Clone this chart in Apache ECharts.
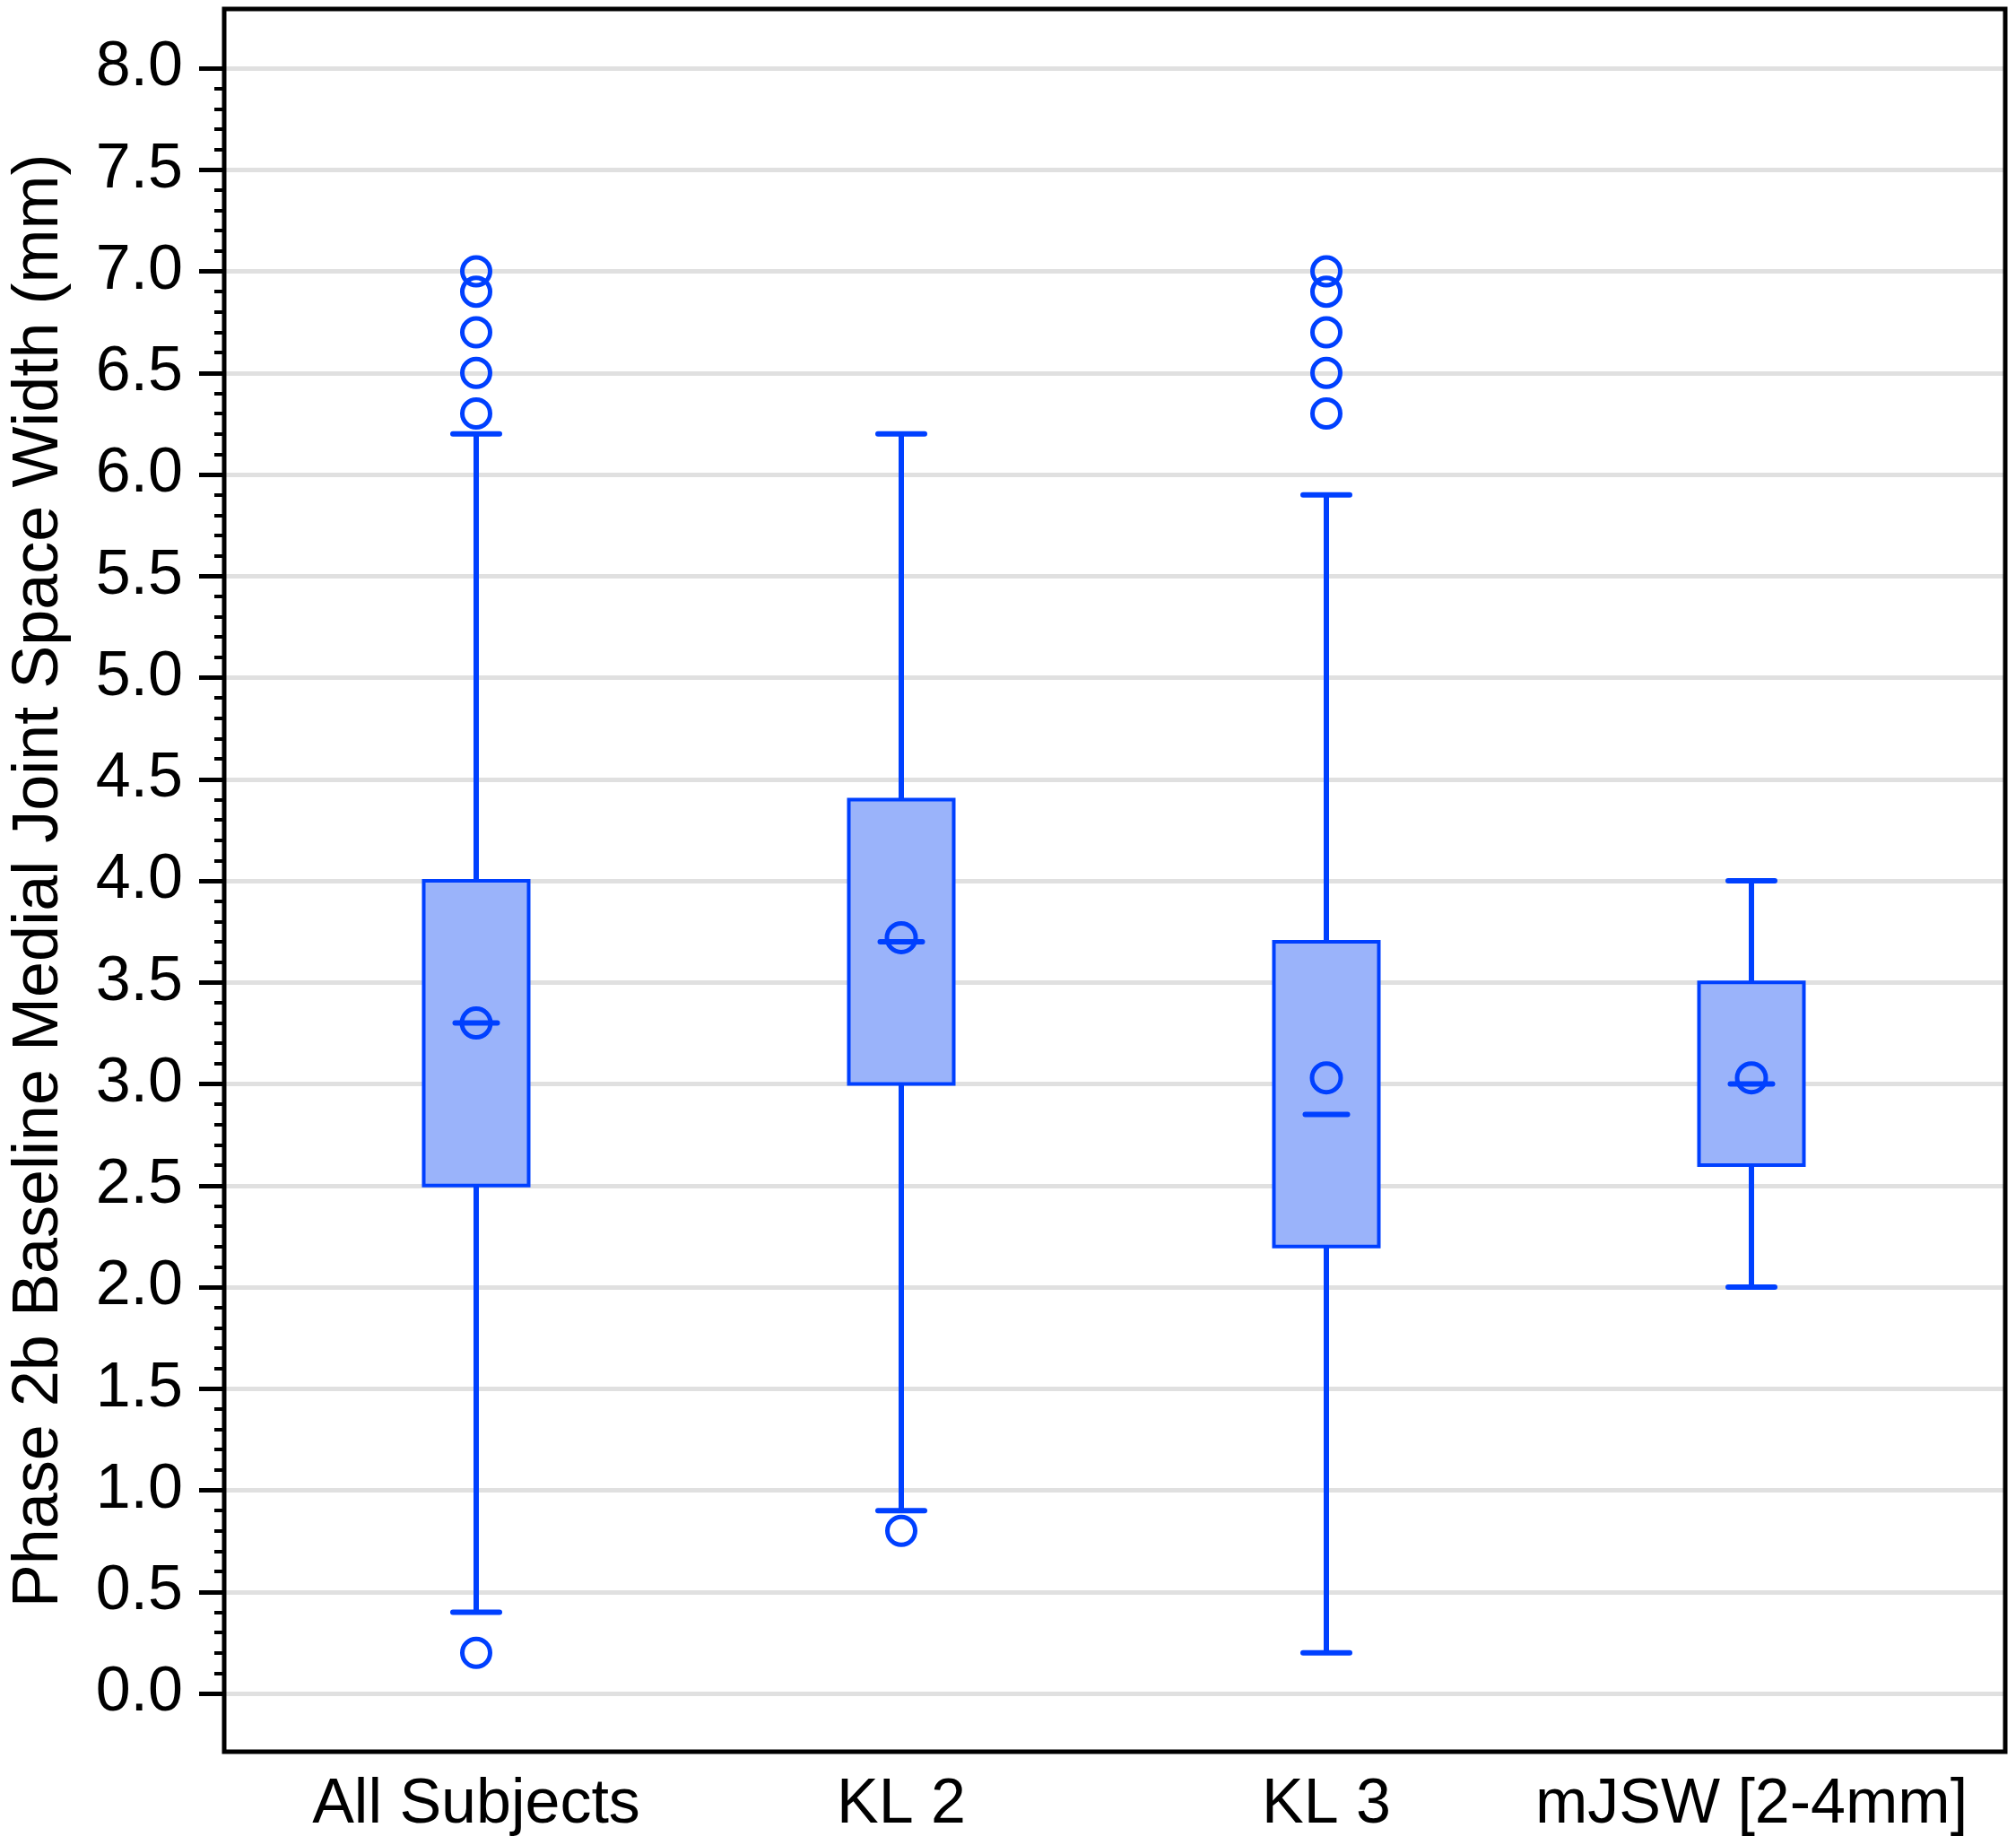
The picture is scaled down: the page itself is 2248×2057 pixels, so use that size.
<!DOCTYPE html>
<html>
<head>
<meta charset="utf-8">
<script src="https://cdn.jsdelivr.net/npm/echarts@6/dist/echarts.min.js"></script>
<style>
  html, body { margin: 0; padding: 0; background: #fff; }
  #chart { width: 2248px; height: 2057px; }
</style>
</head>
<body>
<div id="chart"></div>
<script>
// categories along the bottom
var categories = ['All Subjects', 'KL 2', 'KL 3', 'mJSW [2-4mm]'];

// box statistics (mm)
var whiskerLow  = [0.4, 0.9, 0.2, 2.0];
var q1          = [2.5, 3.0, 2.2, 2.6];
var median      = [3.3, 3.7, 2.85, 3.0];
var q3          = [4.0, 4.4, 3.7, 3.5];
var whiskerHigh = [6.2, 6.2, 5.9, 4.0];
var mean        = [3.3, 3.72, 3.03, 3.03];

// outliers per category
var outliersAll  = [7.0, 6.9, 6.7, 6.5, 6.3, 0.2];
var outliersKL2  = [0.8];
var outliersKL3  = [7.0, 6.9, 6.7, 6.5, 6.3];
var outliersMJSW = [];

// y tick labels
var yMin = 0, yMax = 8, yStep = 0.5;

var blue = '#0040ff';
var boxFill = '#9ab3fa';
var fontFam = '"Liberation Sans", Arial, Helvetica, sans-serif';

var boxData = [];
for (var i = 0; i < categories.length; i++) {
    boxData.push([i, whiskerLow[i], q1[i], median[i], q3[i], whiskerHigh[i], mean[i]]);
}

var outlierData = [];
[outliersAll, outliersKL2, outliersKL3, outliersMJSW].forEach(function (lst, i) {
    lst.forEach(function (v) { outlierData.push([i, v]); });
});

function renderBox(params, api) {
    var x = api.value(0);
    var pLow = api.coord([x, api.value(1)]);
    var pQ1 = api.coord([x, api.value(2)]);
    var pMed = api.coord([x, api.value(3)]);
    var pQ3 = api.coord([x, api.value(4)]);
    var pHigh = api.coord([x, api.value(5)]);
    var pMean = api.coord([x, api.value(6)]);
    var cx = pQ1[0];
    var boxW = 117, capW = 52, medW = 47;
    var lineStyle = {stroke: blue, lineWidth: 6, lineCap: 'round'};
    return {
        type: 'group',
        children: [
            {type: 'line', shape: {x1: cx, y1: pQ3[1], x2: cx, y2: pHigh[1]}, style: {stroke: blue, lineWidth: 6}},
            {type: 'line', shape: {x1: cx, y1: pQ1[1], x2: cx, y2: pLow[1]}, style: {stroke: blue, lineWidth: 6}},
            {type: 'line', shape: {x1: cx - capW / 2, y1: pHigh[1], x2: cx + capW / 2, y2: pHigh[1]}, style: lineStyle},
            {type: 'line', shape: {x1: cx - capW / 2, y1: pLow[1], x2: cx + capW / 2, y2: pLow[1]}, style: lineStyle},
            {type: 'rect', shape: {x: cx - boxW / 2, y: pQ3[1], width: boxW, height: pQ1[1] - pQ3[1]},
             style: {fill: boxFill, stroke: blue, lineWidth: 4}},
            {type: 'line', shape: {x1: cx - medW / 2, y1: pMed[1], x2: cx + medW / 2, y2: pMed[1]}, style: lineStyle},
            {type: 'circle', shape: {cx: cx, cy: pMean[1], r: 16}, style: {fill: 'none', stroke: blue, lineWidth: 5}}
        ]
    };
}

var chart = echarts.init(document.getElementById('chart'));
var option = {
    backgroundColor: '#fff',
    animation: false,
    grid: [
        {left: 250, right: 12, top: 76, bottom: 169},
        {left: 294, right: 58, top: 76, bottom: 169}
    ],
    xAxis: [
        {gridIndex: 0, type: 'value', min: 0, max: 1, show: false},
        {
            gridIndex: 1, type: 'category', data: categories, boundaryGap: true,
            axisLine: {show: false}, axisTick: {show: false},
            axisLabel: {interval: 0, fontSize: 70, color: '#000', fontFamily: fontFam, margin: 90}
        }
    ],
    yAxis: [
        {
            gridIndex: 0, type: 'value', min: yMin, max: yMax, interval: yStep,
            name: 'Phase 2b Baseline Medial Joint Space Width (mm)',
            nameLocation: 'middle', nameRotate: 90, nameGap: 172,
            nameTextStyle: {fontSize: 72, color: '#000', fontFamily: fontFam},
            axisLine: {show: false},
            axisTick: {show: true, length: 30, lineStyle: {color: '#000', width: 5}},
            minorTick: {show: true, splitNumber: 5, length: 13, lineStyle: {color: '#000', width: 4}},
            axisLabel: {fontSize: 70, color: '#000', fontFamily: fontFam, margin: 48,
                        formatter: function (v) { return v.toFixed(1); }},
            splitLine: {show: true, lineStyle: {color: '#e0e0e0', width: 5}}
        },
        {gridIndex: 1, type: 'value', min: yMin, max: yMax, show: false}
    ],
    graphic: [{
        type: 'rect', z: 100,
        shape: {x: 250, y: 10, width: 1986, height: 1943},
        style: {fill: 'none', stroke: '#000', lineWidth: 5}
    }],
    series: [
        {
            type: 'custom', xAxisIndex: 1, yAxisIndex: 1,
            renderItem: renderBox, data: boxData, z: 3
        },
        {
            type: 'scatter', xAxisIndex: 1, yAxisIndex: 1,
            symbol: 'circle', symbolSize: 31, data: outlierData, z: 4,
            itemStyle: {color: 'rgba(0,0,0,0)', borderColor: blue, borderWidth: 5, opacity: 1}
        }
    ]
};
chart.setOption(option);
window.addEventListener('resize', function () { chart.resize(); });
</script>
</body>
</html>
